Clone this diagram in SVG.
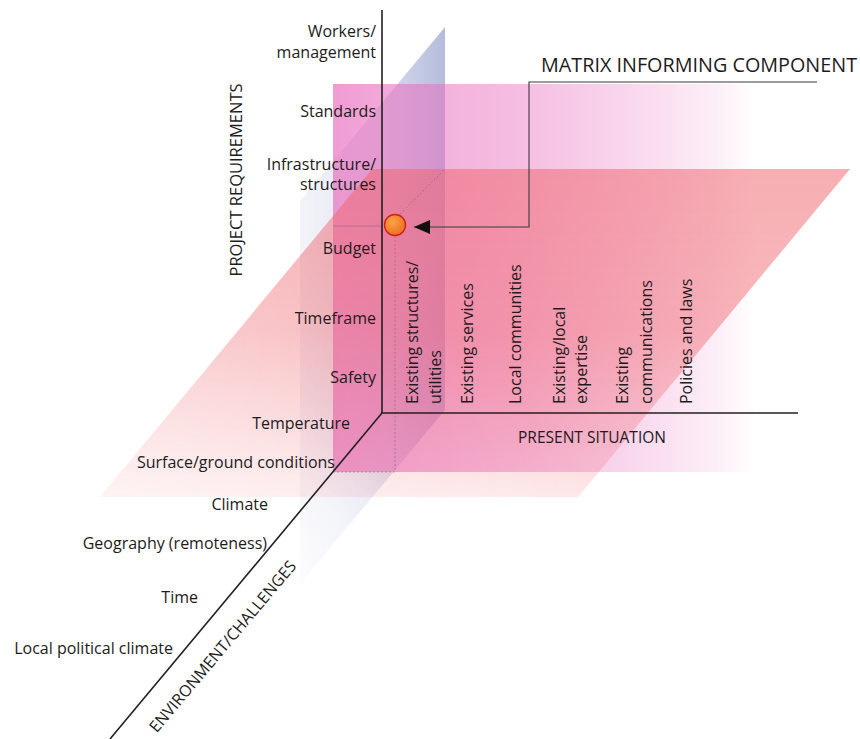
<svg xmlns="http://www.w3.org/2000/svg" width="860" height="739" viewBox="0 0 860 739">
  <defs>
    <style>
      .lbl { font-family: "Open Sans", "Liberation Sans", sans-serif; font-size: 16px; font-weight: 500; fill: #1e1b1c; }
      .ttl { font-family: "Open Sans", "Liberation Sans", sans-serif; font-size: 15.5px; font-weight: 500; fill: #1e1b1c; }
      .end { text-anchor: end; }
      .axis { stroke: #231f20; stroke-width: 1.6; fill: none; }
      .guide { stroke: #7d5a74; stroke-width: 0.9; fill: none; opacity: 0.55; }
      .dots { stroke-dasharray: 2 2; }
      .leader { stroke: #3a3a3a; stroke-width: 1.1; fill: none; }
    </style>
    <!-- frontal (back) plane: magenta fading to the right -->
    <linearGradient id="gBack" gradientUnits="userSpaceOnUse" x1="333" y1="0" x2="756" y2="0">
      <stop offset="0" stop-color="#e96ebe" stop-opacity="0.68"/>
      <stop offset="0.15" stop-color="#e96ebe" stop-opacity="0.58"/>
      <stop offset="0.45" stop-color="#e96ebe" stop-opacity="0.45"/>
      <stop offset="0.7" stop-color="#e96ebe" stop-opacity="0.28"/>
      <stop offset="0.9" stop-color="#e96ebe" stop-opacity="0.12"/>
      <stop offset="1" stop-color="#e96ebe" stop-opacity="0"/>
    </linearGradient>
    <!-- side plane: periwinkle at the axis, pale lavender towards the viewer -->
    <linearGradient id="gSide" gradientUnits="userSpaceOnUse" x1="300" y1="0" x2="445" y2="0">
      <stop offset="0" stop-color="#e2e2f0" stop-opacity="0.4"/>
      <stop offset="0.25" stop-color="#c8cce6" stop-opacity="0.38"/>
      <stop offset="1" stop-color="#8a96c8" stop-opacity="0.64"/>
    </linearGradient>
    <linearGradient id="gSideMask" gradientUnits="userSpaceOnUse" x1="0" y1="400" x2="0" y2="584">
      <stop offset="0" stop-color="#ffffff"/>
      <stop offset="1" stop-color="#404040"/>
    </linearGradient>
    <mask id="mSide" maskUnits="userSpaceOnUse" x="0" y="0" width="860" height="739">
      <rect width="860" height="739" fill="url(#gSideMask)"/>
    </mask>
    <!-- ground plane: salmon red fading towards the front -->
    <linearGradient id="gGround" gradientUnits="userSpaceOnUse" x1="0" y1="169" x2="0" y2="497">
      <stop offset="0" stop-color="#ef656d" stop-opacity="0.52"/>
      <stop offset="0.5" stop-color="#ef656d" stop-opacity="0.46"/>
      <stop offset="0.76" stop-color="#ef656d" stop-opacity="0.3"/>
      <stop offset="1" stop-color="#ef656d" stop-opacity="0.15"/>
    </linearGradient>
    <linearGradient id="gGroundMask" gradientUnits="userSpaceOnUse" x1="380" y1="250" x2="120" y2="480">
      <stop offset="0" stop-color="#ffffff"/>
      <stop offset="1" stop-color="#8a8a8a"/>
    </linearGradient>
    <mask id="mGround" maskUnits="userSpaceOnUse" x="0" y="0" width="860" height="739">
      <rect width="860" height="739" fill="url(#gGroundMask)"/>
    </mask>
    <radialGradient id="gDot" cx="0.4" cy="0.35" r="0.7">
      <stop offset="0" stop-color="#f9a444"/>
      <stop offset="1" stop-color="#ec6a1e"/>
    </radialGradient>
    <marker id="arrowHead" markerUnits="userSpaceOnUse" viewBox="0 0 16 14" markerWidth="16" markerHeight="14" refX="16" refY="7" orient="auto">
      <path d="M0,0 L16,7 L0,14 z" fill="#111"/>
    </marker>
  </defs>

  <rect width="860" height="739" fill="#ffffff"/>

  <!-- translucent planes of the matrix -->
  <g id="planes">
    <polygon id="plane-side" points="445,27 300,201 300,584 445,410" fill="url(#gSide)" mask="url(#mSide)"/>
    <rect id="plane-back" x="333" y="84" width="423" height="388" fill="url(#gBack)"/>
    <polygon id="plane-ground" points="372,169 850,169 578,497 100,497" fill="url(#gGround)" mask="url(#mGround)"/>
  </g>

  <!-- projection guides of the highlighted cell -->
  <g id="guides">
    <line class="guide" x1="333" y1="226" x2="382" y2="226"/>
    <line class="guide dots" x1="395" y1="236" x2="395" y2="472"/>
    <line class="guide dots" x1="333" y1="472" x2="395" y2="472"/>
    <line class="guide dots" x1="400" y1="214" x2="445" y2="169"/>
  </g>

  <!-- three axes -->
  <g id="axes">
    <line class="axis" x1="382" y1="10" x2="382" y2="413"/>
    <line class="axis" x1="381.2" y1="413" x2="798" y2="413"/>
    <line class="axis" x1="382" y1="413" x2="110" y2="739"/>
  </g>

  <!-- axis titles -->
  <g id="axis-titles">
    <text class="ttl" text-anchor="middle" transform="translate(242,180) rotate(-90)" style="font-size:16.5px">PROJECT REQUIREMENTS</text>
    <text class="ttl" x="592" y="443" text-anchor="middle">PRESENT SITUATION</text>
    <text class="ttl" text-anchor="middle" transform="translate(227,650) rotate(-50)" style="font-size:16px">ENVIRONMENT/CHALLENGES</text>
  </g>

  <!-- project requirement rows -->
  <g id="requirements">
    <text class="lbl end" x="376" y="37">Workers/</text>
    <text class="lbl end" x="376" y="58">management</text>
    <text class="lbl end" x="376" y="117">Standards</text>
    <text class="lbl end" x="376" y="170">Infrastructure/</text>
    <text class="lbl end" x="376" y="190">structures</text>
    <text class="lbl end" x="376" y="254">Budget</text>
    <text class="lbl end" x="376" y="324">Timeframe</text>
    <text class="lbl end" x="376" y="383">Safety</text>
  </g>

  <!-- present situation columns -->
  <g id="situation">
    <text class="lbl" transform="translate(418,404) rotate(-90)">Existing structures/</text>
    <text class="lbl" transform="translate(441,404) rotate(-90)">utilities</text>
    <text class="lbl" transform="translate(473,404) rotate(-90)">Existing services</text>
    <text class="lbl" transform="translate(521,404) rotate(-90)">Local communities</text>
    <text class="lbl" transform="translate(565,404) rotate(-90)">Existing/local</text>
    <text class="lbl" transform="translate(587,404) rotate(-90)">expertise</text>
    <text class="lbl" transform="translate(628,404) rotate(-90)">Existing</text>
    <text class="lbl" transform="translate(652,404) rotate(-90)">communications</text>
    <text class="lbl" transform="translate(692,404) rotate(-90)">Policies and laws</text>
  </g>

  <!-- environment / challenge depth rows -->
  <g id="environment">
    <text class="lbl end" x="350" y="429">Temperature</text>
    <text class="lbl end" x="335" y="468">Surface/ground conditions</text>
    <text class="lbl end" x="268" y="510">Climate</text>
    <text class="lbl end" x="267" y="549">Geography (remoteness)</text>
    <text class="lbl end" x="198" y="603">Time</text>
    <text class="lbl end" x="173" y="654">Local political climate</text>
  </g>

  <!-- highlighted matrix cell -->
  <g id="component-dot">
    <circle cx="395" cy="225" r="10.5" fill="url(#gDot)" stroke="#cf1f1a" stroke-width="1.3"/>
  </g>

  <g id="callout">
    <text class="lbl" x="541" y="72" style="font-size:19.8px">MATRIX INFORMING COMPONENT</text>
  </g>

  <g id="connectors">
    <polyline class="leader" points="817,82 529,82 529,227 414,227" marker-end="url(#arrowHead)"/>
  </g>
</svg>
